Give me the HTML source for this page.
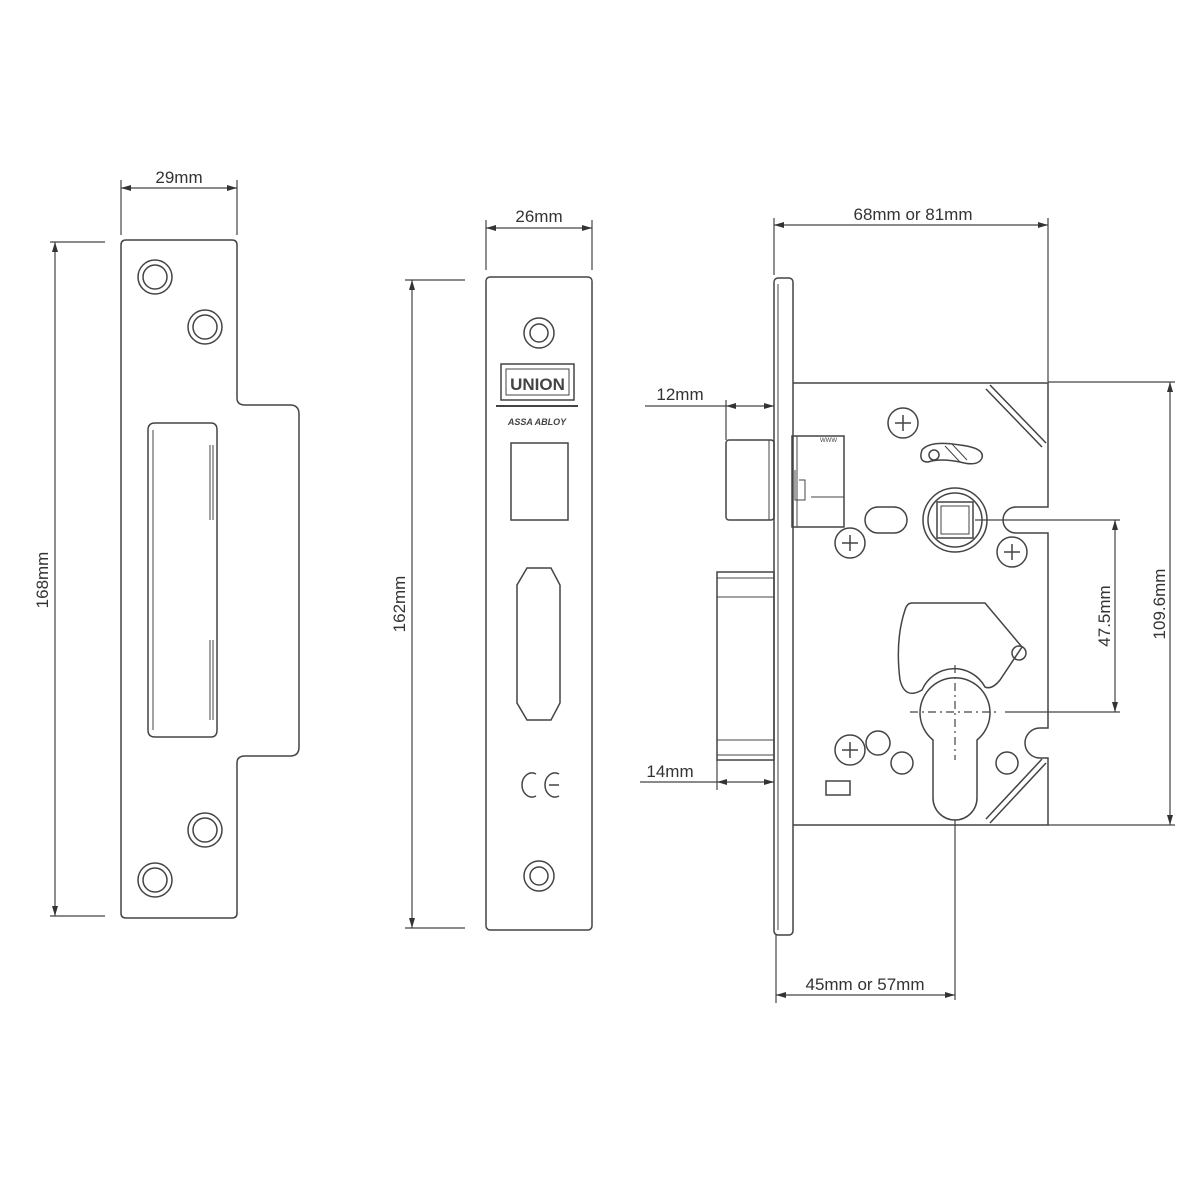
<!DOCTYPE html>
<html><head><meta charset="utf-8"><style>
html,body{margin:0;padding:0;background:#fff;}
svg{display:block}
text{font-family:"Liberation Sans",sans-serif;fill:#333;}
</style></head><body>
<svg width="1200" height="1200" viewBox="0 0 1200 1200" xmlns="http://www.w3.org/2000/svg">
<defs>
<marker id="a" markerWidth="10" markerHeight="6" refX="10" refY="3" orient="auto-start-reverse" markerUnits="userSpaceOnUse"><path d="M0,0 L10,3 L0,6 Z" fill="#333"/></marker>
</defs>
<g fill="none" stroke="#444" stroke-width="1.5">
<path d="M126,240 H232 Q237,240 237,245 V398 Q237,405 245,405 H290 Q299,405 299,414 V747 Q299,756 290,756 H245 Q237,756 237,763 V913 Q237,918 232,918 H126 Q121,918 121,913 V245 Q121,240 126,240 Z"/>
<circle cx="155" cy="277" r="17"/><circle cx="155" cy="277" r="12"/>
<circle cx="205" cy="327" r="17"/><circle cx="205" cy="327" r="12"/>
<circle cx="205" cy="830" r="17"/><circle cx="205" cy="830" r="12"/>
<circle cx="155" cy="880" r="17"/><circle cx="155" cy="880" r="12"/>
<path d="M148,430 Q148,423 155,423 H211 Q217,423 217,430 V730 Q217,737 211,737 H155 Q148,737 148,730 Z"/>
<path d="M153,430 V730 M210,445 V520 M213,445 V520 M210,640 V720 M213,640 V720" stroke-width="1"/>
<rect x="486" y="277" width="106" height="653" rx="4"/>
<circle cx="539" cy="333" r="15"/><circle cx="539" cy="333" r="9"/>
<circle cx="539" cy="876" r="15"/><circle cx="539" cy="876" r="9"/>
<rect x="501" y="364" width="73" height="36"/>
<rect x="506" y="369" width="63" height="26" stroke-width="1"/>
<path d="M496,406 H578" stroke-width="2"/>
<rect x="511" y="443" width="57" height="77"/>
<path d="M527,568 H551 L560,585 V703 L551,720 H527 L517,703 V585 Z"/>
<path d="M536,774 A10,12 0 1,0 536,796 M559,774 A10,12 0 1,0 559,796 M549,785 H559"/>
<rect x="774" y="278" width="19" height="657" rx="4"/>
<line x1="778" y1="284" x2="778" y2="930" stroke-width="1"/>
<path d="M793,383 H1048 V507 H1016 A13,13 0 0,0 1016,533 H1048 V728 H1040 A15,15 0 0,0 1040,758 H1048 V825 H793"/>
<rect x="726" y="440" width="48" height="80" rx="3"/>
<line x1="769" y1="440" x2="769" y2="520" stroke-width="1"/>
<rect x="717" y="572" width="57" height="188"/>
<path d="M717,597 H774 M717,740 H774 M717,578 H774 M717,755 H774" stroke-width="1"/>
<rect x="792" y="436" width="52" height="91"/>
<path d="M797,436 V527 M811,497 H844 V527 M795,470 V500 H805 V480 H799" stroke-width="1"/>
<path d="M990,385 L1046,443 M986,389 L1042,447 M990,823 L1046,763 M986,819 L1042,759"/>
<g>
<circle cx="903" cy="423" r="15"/><circle cx="850" cy="543" r="15"/><circle cx="1012" cy="552" r="15"/><circle cx="850" cy="750" r="15"/>
</g>
<g stroke-width="1.5">
<path d="M903,415 V431 M895,423 H911"/>
<path d="M850,535 V551 M842,543 H858"/>
<path d="M1012,544 V560 M1004,552 H1020"/>
<path d="M850,742 V758 M842,750 H858"/>
</g>
<rect x="865" y="507" width="42" height="26" rx="13"/>
<path d="M922,450 Q930,440 960,445 Q985,448 982,458 Q978,467 960,462 Q940,458 928,462 Q918,462 922,450 Z"/>
<circle cx="934" cy="455" r="5"/>
<path d="M945,446 L960,462 M952,444 L967,460" stroke-width="1"/>
<circle cx="955" cy="520" r="32"/><circle cx="955" cy="520" r="27"/>
<rect x="937" y="502" width="36" height="36"/>
<rect x="941" y="506" width="28" height="28" stroke-width="1"/>
<path d="M912,603 H985 L1022,647 L1000,680 Q992,690 985,687 A35,35 0 0,0 922,690 Q905,700 900,680 Q895,640 905,610 Q907,603 912,603 Z"/>
<circle cx="1019" cy="653" r="7"/>
<path d="M933,740 A35,35 0 1,1 977,740 V798 A22,22 0 0,1 933,798 Z"/>
<circle cx="878" cy="743" r="12"/><circle cx="902" cy="763" r="11"/><circle cx="1007" cy="763" r="11"/>
<rect x="826" y="781" width="24" height="14"/>
</g>
<g stroke="#444" stroke-width="1.2" fill="none">
<path d="M955,665 V760" stroke-dasharray="8,4,2,4"/>
<path d="M910,712 H1000" stroke-dasharray="8,4,2,4"/>
<line x1="955" y1="820" x2="955" y2="1000"/>
<line x1="1005" y1="712" x2="1120" y2="712"/>
<line x1="975" y1="520" x2="1120" y2="520"/>
<line x1="1048" y1="382" x2="1175" y2="382"/>
<line x1="1048" y1="825" x2="1175" y2="825"/>
</g>
<g stroke="#444" stroke-width="1.2" fill="none">
<line x1="121" y1="180" x2="121" y2="235"/><line x1="237" y1="180" x2="237" y2="235"/>
<line x1="121" y1="188" x2="237" y2="188" marker-start="url(#a)" marker-end="url(#a)"/>
<line x1="50" y1="242" x2="105" y2="242"/><line x1="50" y1="916" x2="105" y2="916"/>
<line x1="55" y1="242" x2="55" y2="916" marker-start="url(#a)" marker-end="url(#a)"/>
<line x1="486" y1="220" x2="486" y2="270"/><line x1="592" y1="220" x2="592" y2="270"/>
<line x1="486" y1="228" x2="592" y2="228" marker-start="url(#a)" marker-end="url(#a)"/>
<line x1="405" y1="280" x2="465" y2="280"/><line x1="405" y1="928" x2="465" y2="928"/>
<line x1="412" y1="280" x2="412" y2="928" marker-start="url(#a)" marker-end="url(#a)"/>
<line x1="774" y1="218" x2="774" y2="275"/><line x1="1048" y1="218" x2="1048" y2="382"/>
<line x1="774" y1="225" x2="1048" y2="225" marker-start="url(#a)" marker-end="url(#a)"/>
<line x1="1170" y1="382" x2="1170" y2="825" marker-start="url(#a)" marker-end="url(#a)"/>
<line x1="1115" y1="520" x2="1115" y2="712" marker-start="url(#a)" marker-end="url(#a)"/>
<line x1="726" y1="400" x2="726" y2="440"/>
<line x1="645" y1="406" x2="726" y2="406"/>
<line x1="726" y1="406" x2="774" y2="406" marker-start="url(#a)" marker-end="url(#a)"/>
<line x1="717" y1="760" x2="717" y2="790"/>
<line x1="640" y1="782" x2="717" y2="782"/>
<line x1="717" y1="782" x2="774" y2="782" marker-start="url(#a)" marker-end="url(#a)"/>
<line x1="776" y1="935" x2="776" y2="1003"/>
<line x1="776" y1="995" x2="955" y2="995" marker-start="url(#a)" marker-end="url(#a)"/>
</g>
<g font-size="17">
<text x="179" y="183" text-anchor="middle">29mm</text>
<text x="539" y="222" text-anchor="middle">26mm</text>
<text x="913" y="220" text-anchor="middle">68mm or 81mm</text>
<text x="680" y="400" text-anchor="middle">12mm</text>
<text x="670" y="777" text-anchor="middle">14mm</text>
<text x="865" y="990" text-anchor="middle">45mm or 57mm</text>
<text transform="translate(48,580) rotate(-90)" text-anchor="middle">168mm</text>
<text transform="translate(405,604) rotate(-90)" text-anchor="middle">162mm</text>
<text transform="translate(1110,616) rotate(-90)" text-anchor="middle">47.5mm</text>
<text transform="translate(1165,604) rotate(-90)" text-anchor="middle">109.6mm</text>
</g>
<text x="537.5" y="390" font-size="17" font-weight="bold" text-anchor="middle" style="fill:#444">UNION</text>
<text x="537" y="425" font-size="9" font-style="italic" font-weight="bold" text-anchor="middle" style="fill:#444">ASSA ABLOY</text>
<text x="820" y="442" font-size="6" style="fill:#444">WWW</text>
</svg>
</body></html>
